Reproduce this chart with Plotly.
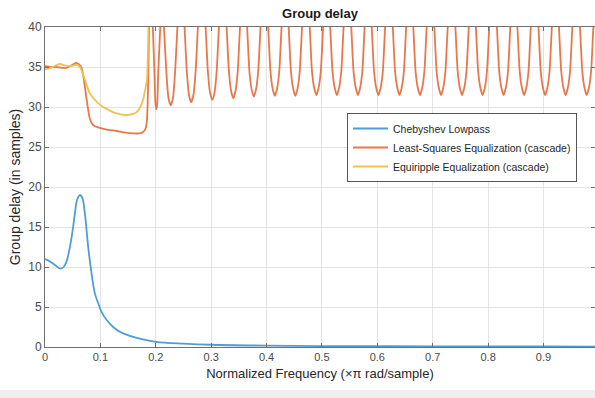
import plotly.graph_objects as go

# ---------------- data ----------------
cheb_freq = [0.000, 0.009, 0.018, 0.027, 0.033, 0.039, 0.045, 0.050, 0.054, 0.058,
             0.063, 0.0675, 0.072, 0.078, 0.084, 0.090, 0.096, 0.102, 0.111, 0.123,
             0.135, 0.153, 0.177, 0.200, 0.250, 0.300, 0.400, 0.500,
             0.600, 0.700, 0.800, 0.900, 1.000]
cheb_delay = [11.0, 10.7, 10.25, 9.8, 9.95, 10.7, 12.5, 14.6, 16.7, 18.4,
              19.0, 18.6, 16.7, 12.5, 9.2, 6.7, 5.5, 4.4, 3.4, 2.5,
              1.9, 1.4, 0.95, 0.65, 0.42, 0.28, 0.17, 0.12,
              0.1, 0.08, 0.07, 0.06, 0.05]

ls_freq = [
    0.000, 0.010, 0.020, 0.030, 0.039, 0.048, 0.056, 0.062, 0.066, 0.070,
    0.075, 0.080, 0.084, 0.090, 0.099, 0.110, 0.129, 0.145, 0.159, 0.170,
    0.175, 0.180, 0.182, 0.184, 0.185, 0.1865, 0.188, 0.191,
    0.1945, 0.1975, 0.1993, 0.201, 0.2027, 0.2045, 0.2085, 0.2115,
    0.2145, 0.219, 0.223, 0.227, 0.231, 0.235, 0.2395, 0.2455,
    0.2515, 0.256, 0.260, 0.264, 0.268, 0.272, 0.2765, 0.283,
    0.2895, 0.294, 0.298, 0.302, 0.306, 0.310, 0.3145, 0.321,
    0.3275, 0.332, 0.336, 0.340, 0.344, 0.348, 0.3525, 0.3585,
    0.3645, 0.369, 0.373, 0.377, 0.381, 0.385, 0.3895, 0.396,
    0.4025, 0.407, 0.411, 0.415, 0.419, 0.423, 0.4275, 0.4335,
    0.4395, 0.444, 0.448, 0.452, 0.456, 0.460, 0.4645, 0.471,
    0.4775, 0.482, 0.486, 0.490, 0.494, 0.498, 0.5025, 0.5085,
    0.5145, 0.519, 0.523, 0.527, 0.531, 0.535, 0.5395, 0.546,
    0.5525, 0.557, 0.561, 0.565, 0.569, 0.573, 0.5775, 0.5835,
    0.5895, 0.594, 0.598, 0.602, 0.606, 0.610, 0.6145, 0.621,
    0.6275, 0.632, 0.636, 0.640, 0.644, 0.648, 0.6525, 0.6585,
    0.6645, 0.669, 0.673, 0.677, 0.681, 0.685, 0.6895, 0.696,
    0.7025, 0.707, 0.711, 0.715, 0.719, 0.723, 0.7275, 0.734,
    0.7405, 0.745, 0.749, 0.753, 0.757, 0.761, 0.7655, 0.7715,
    0.7775, 0.782, 0.786, 0.790, 0.794, 0.798, 0.8025, 0.809,
    0.8155, 0.820, 0.824, 0.828, 0.832, 0.836, 0.8405, 0.8465,
    0.8525, 0.857, 0.861, 0.865, 0.869, 0.873, 0.8775, 0.884,
    0.8905, 0.895, 0.899, 0.903, 0.907, 0.911, 0.9155, 0.9215,
    0.9275, 0.932, 0.936, 0.940, 0.944, 0.948, 0.9525, 0.959,
    0.9655, 0.970, 0.974, 0.978, 0.982, 0.986, 0.9905, 0.9965,
]
ls_delay = [
    35.1, 35.0, 35.0, 34.9, 34.9, 35.2, 35.5, 35.3, 34.9, 33.5,
    31.0, 28.8, 28.0, 27.6, 27.4, 27.2, 27.0, 26.8, 26.7, 26.7,
    26.8, 27.1, 27.4, 28.3, 29.7, 34.0, 40.5, 50.0,
    40.5, 34.5, 30.5, 29.7, 30.5, 34.5, 40.5, 46.0,
    40.5, 34.5, 31.1, 30.2, 31.1, 34.5, 40.5, 46.0,
    40.5, 34.5, 31.5, 30.6, 31.5, 34.5, 40.5, 46.0,
    40.5, 34.5, 31.8, 30.9, 31.8, 34.5, 40.5, 46.0,
    40.5, 34.5, 32.0, 31.1, 32.0, 34.5, 40.5, 46.0,
    40.5, 34.5, 32.2, 31.3, 32.2, 34.5, 40.5, 46.0,
    40.5, 34.5, 32.3, 31.4, 32.3, 34.5, 40.5, 46.0,
    40.5, 34.5, 32.3, 31.4, 32.3, 34.5, 40.5, 46.0,
    40.5, 34.5, 32.4, 31.5, 32.4, 34.5, 40.5, 46.0,
    40.5, 34.5, 32.4, 31.5, 32.4, 34.5, 40.5, 46.0,
    40.5, 34.5, 32.4, 31.5, 32.4, 34.5, 40.5, 46.0,
    40.5, 34.5, 32.4, 31.5, 32.4, 34.5, 40.5, 46.0,
    40.5, 34.5, 32.4, 31.5, 32.4, 34.5, 40.5, 46.0,
    40.5, 34.5, 32.4, 31.5, 32.4, 34.5, 40.5, 46.0,
    40.5, 34.5, 32.4, 31.5, 32.4, 34.5, 40.5, 46.0,
    40.5, 34.5, 32.4, 31.5, 32.4, 34.5, 40.5, 46.0,
    40.5, 34.5, 32.4, 31.5, 32.4, 34.5, 40.5, 46.0,
    40.5, 34.5, 32.4, 31.5, 32.4, 34.5, 40.5, 46.0,
    40.5, 34.5, 32.4, 31.5, 32.4, 34.5, 40.5, 46.0,
    40.5, 34.5, 32.4, 31.5, 32.4, 34.5, 40.5, 46.0,
    40.5, 34.5, 32.4, 31.5, 32.4, 34.5, 40.5, 46.0,
    40.5, 34.5, 32.4, 31.5, 32.4, 34.5, 40.5, 46.0,
]

eq_freq = [0.000, 0.010, 0.020, 0.027, 0.035, 0.045, 0.052, 0.057, 0.063, 0.069,
           0.075, 0.081, 0.090, 0.099, 0.110, 0.129, 0.147, 0.158, 0.166, 0.172,
           0.177, 0.181, 0.184, 0.1855, 0.187, 0.190, 1.000]
eq_delay = [34.7, 34.9, 35.2, 35.4, 35.2, 35.1, 35.2, 35.3, 35.0, 34.0,
            32.8, 31.7, 30.9, 30.3, 29.8, 29.2, 29.0, 29.1, 29.4, 30.0,
            30.9, 32.2, 33.4, 36.0, 40.5, 48.0, 48.0]

series_names = ["Chebyshev Lowpass",
                "Least-Squares Equalization (cascade)",
                "Equiripple Equalization (cascade)"]
series_colors = ["#4f9dd8", "#e8784c", "#f0c24e"]
series_smoothing = [1.0, 0.6, 0.8]

x_ticks = [0, 0.1, 0.2, 0.3, 0.4, 0.5, 0.6, 0.7, 0.8, 0.9]
x_tick_labels = ["0", "0.1", "0.2", "0.3", "0.4", "0.5", "0.6", "0.7", "0.8", "0.9"]
y_ticks = [0, 5, 10, 15, 20, 25, 30, 35, 40]

# ---------------- figure ----------------
FONT = "Liberation Sans, Arial, Helvetica, sans-serif"
AXIS = "#707070"

fig = go.Figure()
for fx, fy, name, col, sm in zip([cheb_freq, ls_freq, eq_freq],
                                 [cheb_delay, ls_delay, eq_delay],
                                 series_names, series_colors, series_smoothing):
    fig.add_trace(go.Scatter(x=fx, y=fy, mode="lines", name=name,
                             line=dict(color=col, width=1.8, shape="spline",
                                       smoothing=sm)))

fig.update_layout(
    width=595, height=398,
    margin=dict(l=45, r=0, t=27, b=51),
    paper_bgcolor="white", plot_bgcolor="white",
    font=dict(family=FONT, color="#404040", size=11),
    title=dict(text="<b>Group delay</b>", x=(45 + 595) / 2 / 595, xanchor="center",
               y=1 - 13 / 398, yanchor="middle",
               font=dict(family=FONT, size=13, color="#1a1a1a")),
    showlegend=True,
    legend=dict(x=(347 - 45) / 550, y=1 - (113 - 27) / 320,
                xanchor="left", yanchor="top",
                bgcolor="white", bordercolor="#555555", borderwidth=1,
                font=dict(family=FONT, size=10.5, color="#262626"),
                tracegroupgap=0, itemwidth=35),
    shapes=[dict(type="rect", xref="paper", yref="paper",
                 x0=-45 / 550, x1=1.0, y0=-(398 - 347) / 320, y1=-(390 - 347) / 320,
                 fillcolor="#efefef", line=dict(width=0), layer="below")],
)

fig.update_xaxes(range=[0, 0.993], tickvals=x_ticks, ticktext=x_tick_labels,
                 showgrid=True, gridcolor="#e3e3e3", gridwidth=1,
                 zeroline=False, showline=True, linecolor=AXIS, linewidth=1,
                 mirror="ticks", ticks="inside", ticklen=4, tickcolor=AXIS,
                 tickfont=dict(size=11, color="#4a4a4a"),
                 title=dict(text="Normalized Frequency (\u00d7\u03c0 rad/sample)",
                            font=dict(size=13, color="#262626"), standoff=6))
fig.update_yaxes(range=[0, 40], tickvals=y_ticks,
                 showgrid=True, gridcolor="#e3e3e3", gridwidth=1,
                 zeroline=False, showline=True, linecolor=AXIS, linewidth=1,
                 mirror="ticks", ticks="inside", ticklen=4, tickcolor=AXIS,
                 tickfont=dict(size=12, color="#4a4a4a"),
                 title=dict(text="Group delay (in samples)",
                            font=dict(size=14, color="#262626"), standoff=4))

fig.write_html("out.html", config={"displayModeBar": False})
